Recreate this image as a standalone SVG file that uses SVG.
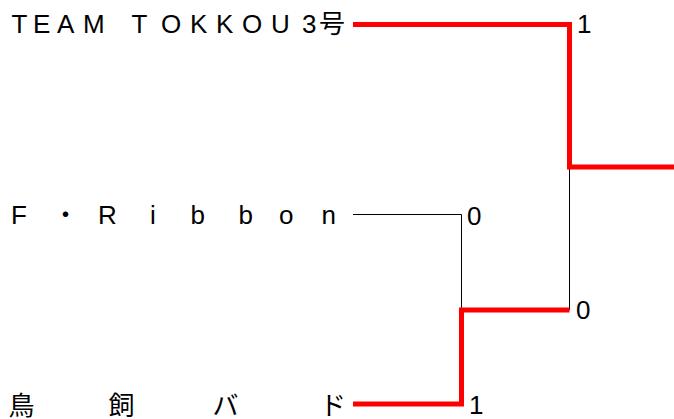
<svg xmlns="http://www.w3.org/2000/svg" width="674" height="419" viewBox="0 0 674 419">
<style>
text{font-family:"Liberation Sans","Noto Sans CJK JP",sans-serif;font-size:26px;fill:#000}
.win{fill:none;stroke:#ff0000;stroke-width:5;stroke-linejoin:miter;stroke-linecap:butt}
.lose{fill:none;stroke:#000;stroke-width:1}
</style>
<rect width="674" height="419" fill="#fff"/>
<g id="connectors">
<path class="lose" d="M353 214.5H461.5V310"/>
<path class="lose" d="M569.5 167V310"/>
<path class="win" d="M353 404H461.5V310H569.5"/>
<path class="win" d="M353 24.5H569.5V167H674"/>
</g>
<g id="team-tokkou"><text x="11.5 33 57 83 131.5 161 190 216 242 271 302 319" y="33">TEAMTOKKOU3号</text></g>
<g id="team-fribbon"><text x="11 52.5 98 150 190.5 238.5 279 321.5" y="224">F・Ribbon</text></g>
<g id="team-torikai"><text x="8.5 108.5 212.5 320" y="415">鳥飼バド</text></g>
<g id="scores">
<text x="577" y="33">1</text>
<text x="467" y="225">0</text>
<text x="576" y="319">0</text>
<text x="469" y="414">1</text>
</g>
</svg>
